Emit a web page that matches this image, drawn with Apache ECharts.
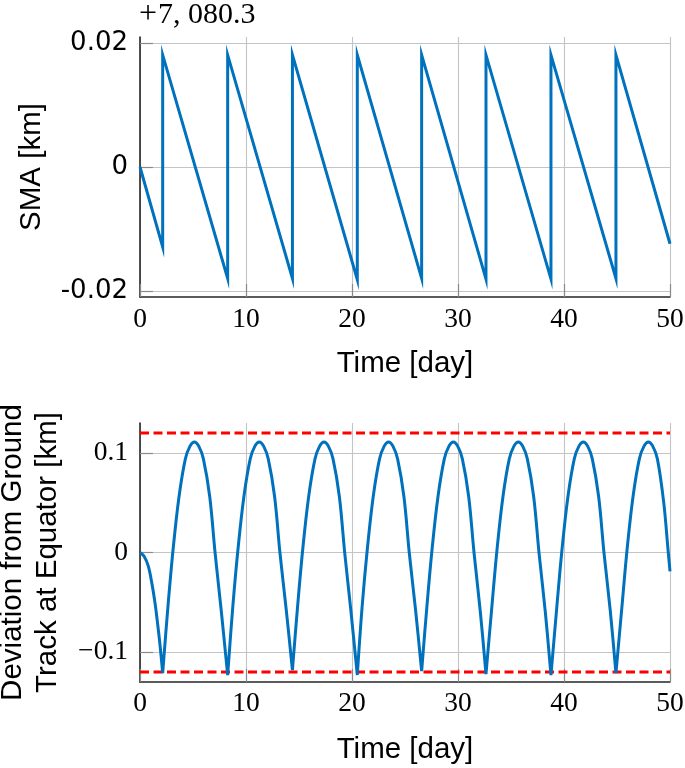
<!DOCTYPE html>
<html><head><meta charset="utf-8">
<script src="https://cdn.jsdelivr.net/npm/echarts@6/dist/echarts.min.js"></script>
<style>html,body{margin:0;padding:0;background:#fff}#c{width:685px;height:768px}</style>
</head><body><div id="c"></div>
<script>
// ---- data ----
const xTicks = [0, 10, 20, 30, 40, 50];
const smaTicks = [-0.02, 0, 0.02];
const smaTickLabels = ['-0.02', '0', '0.02'];
const devTicks = [-0.1, 0, 0.1];
const devTickLabels = ['\u22120.1', '0', '0.1'];
const smaOffsetSign = '+';
const smaOffsetValue = '7, 080.3';
const xName = 'Time [day]';
const smaName = 'SMA [km]';
const devName = 'Deviation from Ground\nTrack at Equator [km]';

const smaTime  = [0, 2.14, 2.14, 8.27, 8.27, 14.38, 14.38, 20.50, 20.50, 26.57, 26.57, 32.64, 32.64, 38.77, 38.77, 44.90, 44.90, 50];
const smaValue = [0, -0.0129, 0.0181, -0.0180, 0.0181, -0.0180, 0.0181, -0.0182, 0.0181, -0.0180, 0.0181, -0.0181, 0.0181, -0.0181, 0.0181, -0.0180, 0.0181, -0.0124];

// deviation: arcs between maneuvers (a repeated time marks a cusp)
const devTime = [
  0, 0.40, 0.79, 1.12, 1.42, 1.70, 1.89, 2.14,
  2.14, 2.63, 3.13, 3.68, 4.28, 4.73, 5.13, 5.53, 5.98, 6.58, 7.08, 7.68, 8.27,
  8.27, 8.75, 9.25, 9.80, 10.40, 10.85, 11.25, 11.65, 12.10, 12.70, 13.20, 13.80, 14.38,
  14.38, 14.86, 15.36, 15.91, 16.51, 16.96, 17.36, 17.76, 18.21, 18.81, 19.31, 19.91, 20.50,
  20.50, 20.95, 21.45, 22.00, 22.60, 23.05, 23.45, 23.85, 24.30, 24.90, 25.40, 26.00, 26.57,
  26.57, 27.06, 27.56, 28.11, 28.71, 29.16, 29.56, 29.96, 30.41, 31.01, 31.51, 32.11, 32.64,
  32.64, 33.19, 33.69, 34.24, 34.84, 35.29, 35.69, 36.09, 36.54, 37.14, 37.64, 38.24, 38.77,
  38.77, 39.32, 39.82, 40.37, 40.97, 41.42, 41.82, 42.22, 42.67, 43.27, 43.77, 44.37, 44.90,
  44.90, 45.46, 45.96, 46.51, 47.11, 47.56, 47.96, 48.36, 48.81, 49.41, 49.82, 50
];
const devValue = [
  0, -0.004, -0.014, -0.031, -0.051, -0.075, -0.093, -0.121,
  -0.121, -0.055, 0.004, 0.056, 0.094, 0.107, 0.111, 0.107, 0.094, 0.056, 0.000, -0.060, -0.123,
  -0.123, -0.055, 0.004, 0.056, 0.094, 0.107, 0.111, 0.107, 0.094, 0.056, 0.000, -0.058, -0.118,
  -0.118, -0.055, 0.004, 0.056, 0.094, 0.107, 0.111, 0.107, 0.094, 0.056, 0.000, -0.060, -0.123,
  -0.123, -0.055, 0.004, 0.056, 0.094, 0.107, 0.111, 0.107, 0.094, 0.056, 0.000, -0.058, -0.119,
  -0.119, -0.055, 0.004, 0.056, 0.094, 0.107, 0.111, 0.107, 0.094, 0.056, 0.000, -0.060, -0.122,
  -0.122, -0.055, 0.004, 0.056, 0.094, 0.107, 0.111, 0.107, 0.094, 0.056, 0.000, -0.060, -0.123,
  -0.123, -0.055, 0.004, 0.056, 0.094, 0.107, 0.111, 0.107, 0.094, 0.056, 0.000, -0.059, -0.121,
  -0.121, -0.055, 0.004, 0.056, 0.094, 0.107, 0.111, 0.107, 0.094, 0.050, 0.002, -0.019
];
const devLimitUpper = 0.12;
const devLimitLower = -0.12;

// ---- build ----
const smaData = smaTime.map((t, i) => [t, smaValue[i]]);
const devData = [];
devTime.forEach((t, i) => {
  if (i > 0 && t === devTime[i - 1]) devData.push([t, null]);
  devData.push([t, devValue[i]]);
});
const xMin = xTicks[0], xMax = xTicks[xTicks.length - 1];

const BLUE = '#0072BD';
const serif = 'Liberation Serif';
const sans = 'Liberation Sans';

function xAxis(gi, margin, gap) {
  return {
    gridIndex: gi, type: 'value', min: xMin, max: xMax, interval: 10,
    axisLine: { show: true, onZero: false, lineStyle: { color: '#262626', width: 1.6 } },
    axisTick: { show: true, inside: true, length: 13, lineStyle: { color: '#8a8a8a', width: 1.2 } },
    splitLine: { show: true, lineStyle: { color: '#c4c4c4', width: 1.1 } },
    axisLabel: { show: true, fontFamily: serif, fontSize: 27.5, color: '#000', margin: margin,
                 showMinLabel: true, showMaxLabel: true, hideOverlap: false },
    name: xName, nameLocation: 'middle', nameGap: gap,
    nameTextStyle: { fontFamily: sans, fontSize: 29.5, color: '#000' }
  };
}
function yAxis(gi, min, max, ticks, labels, font, fsize, name, gap, lh) {
  return {
    gridIndex: gi, type: 'value', min: min, max: max,
    axisLine: { show: true, onZero: false, lineStyle: { color: '#262626', width: 1.6 } },
    axisTick: { show: true, inside: true, length: 13, customValues: ticks, lineStyle: { color: '#8a8a8a', width: 1.2 } },
    splitLine: { show: true, lineStyle: { color: '#c4c4c4', width: 1.1 } },
    axisLabel: { show: true, customValues: ticks, fontFamily: font, fontSize: fsize, color: '#000', margin: 12,
                 formatter: v => { const k = ticks.findIndex(a => Math.abs(a - v) < 1e-9); return k >= 0 ? labels[k] : ''; } },
    name: name, nameLocation: 'middle', nameGap: gap, nameRotate: 90,
    nameTextStyle: { fontFamily: sans, fontSize: 29.5, color: '#000', lineHeight: lh }
  };
}

const chart = echarts.init(document.getElementById('c'), null, { renderer: 'canvas' });
chart.setOption({
  animation: false,
  backgroundColor: '#fff',
  grid: [
    { left: 140, right: 15, top: 37, height: 260, containLabel: false, outerBoundsMode: 'none' },
    { left: 140, right: 15, top: 423, height: 259, containLabel: false, outerBoundsMode: 'none' }
  ],
  xAxis: [xAxis(0, 9, 52), xAxis(1, 8, 53)],
  yAxis: [
    yAxis(0, -0.021, 0.021, smaTicks, smaTickLabels, 'DejaVu Sans', 26, smaName, 93, 29.5),
    yAxis(1, -0.13, 0.13, devTicks, devTickLabels, serif, 27.5, devName, 75, 35)
  ],
  graphic: [{
    type: 'text', left: 139, top: -1,
    style: {
      text: '{p|' + smaOffsetSign + '}{n|' + smaOffsetValue + '}',
      rich: {
        p: { fontFamily: serif, fontSize: 32, fill: '#000', padding: [0, 1, 0, 0] },
        n: { fontFamily: serif, fontSize: 30, fill: '#000' }
      }
    }
  }],
  series: [
    { type: 'line', xAxisIndex: 0, yAxisIndex: 0, data: smaData, showSymbol: false, symbol: 'none',
      lineStyle: { color: BLUE, width: 3, join: 'miter', miterLimit: 10 }, z: 5 },
    { type: 'line', xAxisIndex: 1, yAxisIndex: 1, data: [[xMin, devLimitUpper], [xMax, devLimitUpper]], symbol: 'none',
      lineStyle: { color: '#ff0000', width: 3, type: [9, 4.5] }, z: 4 },
    { type: 'line', xAxisIndex: 1, yAxisIndex: 1, data: [[xMin, devLimitLower], [xMax, devLimitLower]], symbol: 'none',
      lineStyle: { color: '#ff0000', width: 3, type: [9, 4.5] }, z: 4 },
    { type: 'line', xAxisIndex: 1, yAxisIndex: 1, data: devData, symbol: 'none', smooth: 0.35, connectNulls: false,
      lineStyle: { color: BLUE, width: 3, join: 'miter', miterLimit: 10 }, z: 5 }
  ]
});
</script>
</body></html>
